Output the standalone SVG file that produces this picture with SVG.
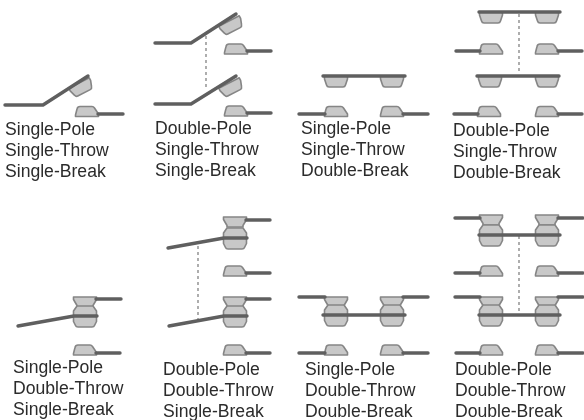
<svg xmlns="http://www.w3.org/2000/svg" xmlns:xlink="http://www.w3.org/1999/xlink" width="584" height="420" viewBox="0 0 584 420">
<style>
.t{font-family:"Liberation Sans",Arial,sans-serif;font-size:17.6px;fill:#2b2b2b}
.c{fill:#c8c8c8;stroke:#858585;stroke-width:1.6;stroke-linejoin:round}
.w{fill:none;stroke:#5f5f5f;stroke-width:3.4;stroke-linecap:round;stroke-linejoin:round}
.l{stroke:#9a9a9a;stroke-width:1.6;stroke-dasharray:3 3;fill:none}
</style>
<defs>
<filter id="b" x="-5%" y="-5%" width="110%" height="110%"><feGaussianBlur stdDeviation="0.4"/></filter>
<path id="up" class="c" d="M-11.500,0V-1.500L-10,-7.500Q-9.500,-10,-7,-10H5Q6.500,-10,7.500,-8.500L11.500,-2.500V0Z"/>
<path id="dn" class="c" d="M-11.500,0H11.500V3L9.500,9Q9,11,7,11H-7Q-9,11,-9.500,9L-11.500,3Z"/>
<path id="ov" class="c" d="M-11.500,-10H11.500V-7.500L8,-1.500V0H-8V-1.500L-11.500,-7.500Z"/>
<path id="mv" class="c" d="M-8,-10H8L11.500,-5V5.500L9.500,9.500Q9,11,7,11H-7Q-9,11,-9.500,9.500L-11.500,5.500V-5Z"/>
</defs>
<g filter="url(#b)">
<g id="connectors">
<path class="l" d="M206,36V88"/>
<path class="l" d="M519,14V74"/>
<path class="l" d="M198,246V319"/>
<path class="l" d="M519,236V312"/>
</g>
<g id="spst-sb">
<use href="#dn" transform="translate(79,83) rotate(-27)"/>
<use href="#up" x="87" y="116.500"/>
<path class="w" d="M5,105H43L88,76M98,114H123"/>
</g>
<g id="dpst-sb">
<use href="#dn" transform="translate(229,21) rotate(-27)"/>
<use href="#up" x="236" y="54"/>
<use href="#dn" transform="translate(229,83) rotate(-27)"/>
<use href="#up" x="236" y="116"/>
<path class="w" d="M155,43H191L236,14M247,51H271M155,104H191L236,76M247,113H271"/>
</g>
<g id="spst-db">
<use href="#dn" x="336" y="76"/><use href="#dn" x="392" y="76"/>
<use href="#up" x="336" y="116.500"/><use href="#up" x="392" y="116.500"/>
<path class="w" d="M323,76H405M299,114H325M403,114H428"/>
</g>
<g id="dpst-db">
<use href="#dn" x="491" y="12"/><use href="#dn" x="547" y="12"/>
<use href="#up" x="491" y="54"/><use href="#up" x="547" y="54"/>
<use href="#dn" x="490" y="76"/><use href="#dn" x="547" y="76"/>
<use href="#up" x="489" y="116.500"/><use href="#up" x="547" y="116.500"/>
<path class="w" d="M479,12H560M456,51H480M558,51H582M477,76H559M454,114H478M558,114H582"/>
</g>
<g id="spdt-sb">
<use href="#ov" x="85" y="307"/><use href="#mv" x="85" y="316"/><use href="#up" x="85" y="355"/>
<path class="w" d="M18,326L74,316H97M96,299H121M96,353H120"/>
</g>
<g id="dpdt-sb">
<use href="#ov" x="235" y="227"/><use href="#mv" x="235" y="238"/><use href="#up" x="235" y="276"/>
<use href="#ov" x="235" y="307"/><use href="#mv" x="235" y="316"/><use href="#up" x="235" y="355"/>
<path class="w" d="M168,248L224,238H247M246,220H270M246,273H270M169,326L224,316H247M246,299H270M246,353H270"/>
</g>
<g id="spdt-db">
<use href="#ov" x="336" y="307"/><use href="#ov" x="392" y="307"/>
<use href="#mv" x="336" y="315"/><use href="#mv" x="392" y="315"/>
<use href="#up" x="336" y="355"/><use href="#up" x="392" y="355"/>
<path class="w" d="M323,315H405M299,297H325M403,297H428M299,353H325M403,353H428"/>
</g>
<g id="dpdt-db">
<use href="#ov" x="491" y="225"/><use href="#ov" x="547" y="225"/>
<use href="#mv" x="491" y="235"/><use href="#mv" x="547" y="235"/>
<use href="#up" x="491" y="276"/><use href="#up" x="547" y="276"/>
<use href="#ov" x="491" y="307"/><use href="#ov" x="547" y="307"/>
<use href="#mv" x="491" y="315"/><use href="#mv" x="547" y="315"/>
<use href="#up" x="491" y="355"/><use href="#up" x="547" y="355"/>
<path class="w" d="M479,235H560M455,218H480M558,218H583M455,273H480M558,273H583M479,315H560M455,297H480M558,297H583M456,353H480M558,353H583"/>
</g>
</g>
<g id="labels">
<text class="t" x="5" y="135">Single-Pole</text><text class="t" x="5" y="156">Single-Throw</text><text class="t" x="5" y="177">Single-Break</text>
<text class="t" x="155" y="134">Double-Pole</text><text class="t" x="155" y="155">Single-Throw</text><text class="t" x="155" y="176">Single-Break</text>
<text class="t" x="301" y="134">Single-Pole</text><text class="t" x="301" y="155">Single-Throw</text><text class="t" x="301" y="176">Double-Break</text>
<text class="t" x="453" y="136">Double-Pole</text><text class="t" x="453" y="157">Single-Throw</text><text class="t" x="453" y="178">Double-Break</text>
<text class="t" x="13" y="373">Single-Pole</text><text class="t" x="13" y="394">Double-Throw</text><text class="t" x="13" y="415">Single-Break</text>
<text class="t" x="163" y="375">Double-Pole</text><text class="t" x="163" y="396">Double-Throw</text><text class="t" x="163" y="417">Single-Break</text>
<text class="t" x="305" y="375">Single-Pole</text><text class="t" x="305" y="396">Double-Throw</text><text class="t" x="305" y="417">Double-Break</text>
<text class="t" x="455" y="375">Double-Pole</text><text class="t" x="455" y="396">Double-Throw</text><text class="t" x="455" y="417">Double-Break</text>
</g>
</svg>
